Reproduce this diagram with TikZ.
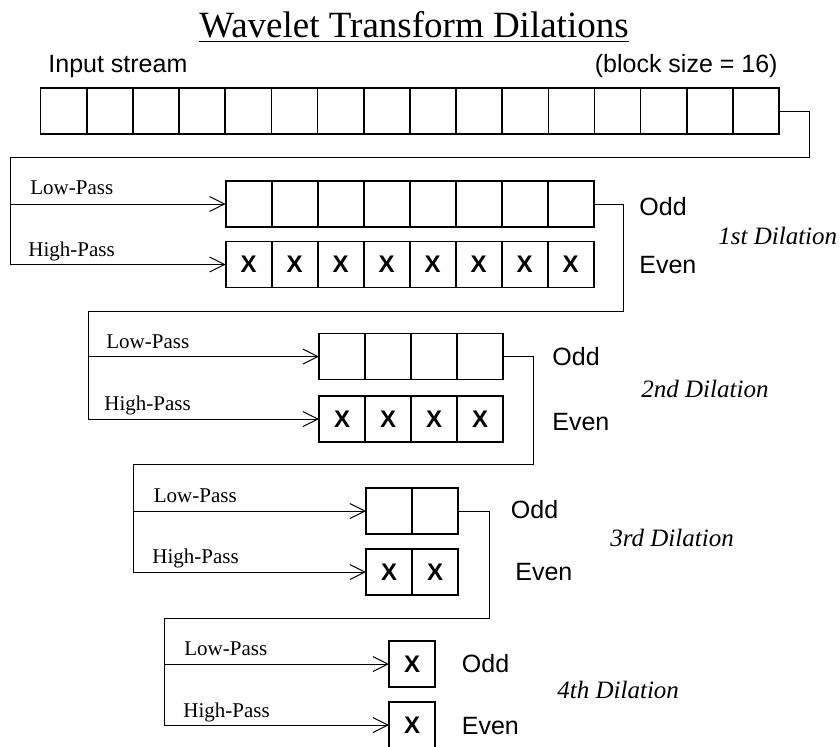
\documentclass[tikz,border=0pt]{standalone}
\usepackage{fontspec}
\setmainfont{Liberation Serif}
\setsansfont{Liberation Sans}
\newfontfamily\crossfont{Liberation Sans Bold}
\usepackage{tikz}
\usetikzlibrary{arrows.meta,positioning,calc}
\tikzset{
  cell/.style={draw,line width=0.8pt,minimum width=23pt,minimum height=23pt,inner sep=0pt,outer sep=0pt},
  xcell/.style={cell,font=\crossfont\fontsize{12}{14}\selectfont},
  sflabel/.style={inner sep=0pt,font=\sffamily\fontsize{12.5}{15}\selectfont},
  passlabel/.style={inner sep=0pt,anchor=base west,font=\fontsize{10.5}{12}\selectfont},
  dilabel/.style={inner sep=0pt,anchor=west,font=\itshape\fontsize{12.5}{15}\selectfont},
  link/.style={line width=0.5pt},
  flow/.style={-{Straight Barb[length=7.5pt,width=7.5pt]},line width=0.5pt}
}

\begin{document}
\begin{tikzpicture}[x=0.5pt,y=-0.5pt]
\useasboundingbox (0,0) rectangle (840,746);
% title and header
\node[inner sep=0pt,anchor=base,font=\fontsize{18.5}{22}\selectfont] (title) at (414,37) {Wavelet Transform Dilations};
\draw[line width=0.5pt] ([yshift=-2.35pt]title.base west) -- ([yshift=-2.35pt]title.base east);
\node[sflabel,anchor=base west] (instream) at (48,72) {Input stream};
\node[sflabel,anchor=base east] (blocksize) at (778,72) {(block size = 16)};
% input stream
\foreach \i in {1,...,16}
  \node[cell,minimum width=23.08pt] (in\i) at ({40.7+46.15*(\i-0.5)},111) {};
% 1st dilation
\foreach \i in {1,...,8} {
  \node[cell] (lo1-\i) at ({225.7+46*(\i-0.5)},204) {};
  \node[xcell] (hi1-\i) at ({225.7+46*(\i-0.5)},264.5) {X};
}
% 2nd dilation
\foreach \i in {1,...,4} {
  \node[cell] (lo2-\i) at ({319+46*(\i-0.5)},356.5) {};
  \node[xcell] (hi2-\i) at ({319+46*(\i-0.5)},419) {X};
}
% 3rd dilation
\foreach \i in {1,2} {
  \node[cell] (lo3-\i) at ({366+46*(\i-0.5)},511) {};
  \node[xcell] (hi3-\i) at ({366+46*(\i-0.5)},572) {X};
}
% 4th dilation
\node[xcell] (lo4-1) at (412,664) {X};
\node[xcell] (hi4-1) at (412,725) {X};

% wiring
\coordinate (r0) at (809,157);
\coordinate (b0) at (10.7,157);
\coordinate (r1) at (623,311);
\coordinate (b1) at (88,311);
\coordinate (r2) at (533,464);
\coordinate (b2) at (133.5,464);
\coordinate (r3) at (489,618);
\coordinate (b3) at (164,618);
\draw[link] (in16.east) -| (r0) -- (b0);
\draw[flow] (b0) |- (lo1-1.west);
\draw[flow] (b0) |- (hi1-1.west);
\draw[link] (lo1-8.east) -| (r1) -- (b1);
\draw[flow] (b1) |- (lo2-1.west);
\draw[flow] (b1) |- (hi2-1.west);
\draw[link] (lo2-4.east) -| (r2) -- (b2);
\draw[flow] (b2) |- (lo3-1.west);
\draw[flow] (b2) |- (hi3-1.west);
\draw[link] (lo3-2.east) -| (r3) -- (b3);
\draw[flow] (b3) |- (lo4-1.west);
\draw[flow] (b3) |- (hi4-1.west);

% filter labels
\node[passlabel] (lp1) at (30,194) {Low-Pass};
\node[passlabel] (hp1) at (28,256) {High-Pass};
\node[passlabel] (lp2) at (106,348) {Low-Pass};
\node[passlabel] (hp2) at (104,410) {High-Pass};
\node[passlabel] (lp3) at (153.5,502) {Low-Pass};
\node[passlabel] (hp3) at (152,563) {High-Pass};
\node[passlabel] (lp4) at (184,655) {Low-Pass};
\node[passlabel] (hp4) at (183,717) {High-Pass};

% odd / even
\node[sflabel,anchor=west] (odd1) at (639,207) {Odd};
\node[sflabel,anchor=west] (even1) at (639,265) {Even};
\node[sflabel,anchor=west] (odd2) at (552,357) {Odd};
\node[sflabel,anchor=west] (even2) at (552,422) {Even};
\node[sflabel,anchor=west] (odd3) at (510.5,510) {Odd};
\node[sflabel,anchor=west] (even3) at (515,572) {Even};
\node[sflabel,anchor=west] (odd4) at (461.5,664) {Odd};
\node[sflabel,anchor=west] (even4) at (461.5,726) {Even};

% dilation names
\node[dilabel] (dil1) at (718,236) {1st Dilation};
\node[dilabel] (dil2) at (641,389) {2nd Dilation};
\node[dilabel] (dil3) at (610,538) {3rd Dilation};
\node[dilabel] (dil4) at (557,690) {4th Dilation};
\end{tikzpicture}
\end{document}
